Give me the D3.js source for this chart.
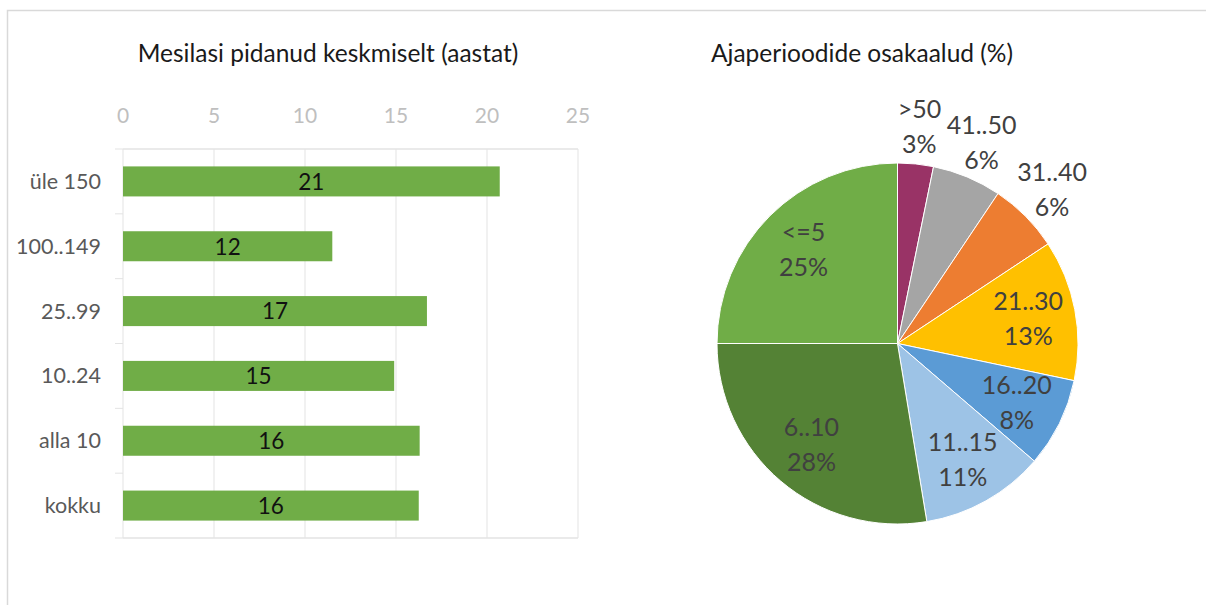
<!DOCTYPE html>
<html>
<head>
<meta charset="utf-8">
<script src="https://cdn.jsdelivr.net/npm/d3@7/dist/d3.min.js"></script>
<style>
  body { margin: 0; background: #fff; }
  svg { display: block; font-family: Lato, "Open Sans", sans-serif; }
</style>
</head>
<body>
<div id="chart"></div>
<script>
// bar chart data
var barCategories = ['üle 150', '100..149', '25..99', '10..24', 'alla 10', 'kokku'];
var barValues = [20.7, 11.5, 16.7, 14.9, 16.3, 16.25];
var barTicks = [0, 5, 10, 15, 20, 25];

// pie data (clockwise from top)
var pieLabels = ['>50', '41..50', '31..40', '21..30', '16..20', '11..15', '6..10', '<=5'];
var pieValues = [3.2, 6.2, 6.3, 12.6, 8.0, 11.1, 27.6, 25.0];
var pieColors = ['#993366', '#a5a5a5', '#ed7d31', '#ffc000', '#5b9bd5', '#9dc3e6', '#548235', '#70ad47'];

var width = 1206, height = 605;
var svg = d3.select('#chart').append('svg')
  .attr('width', width)
  .attr('height', height);

// frame
svg.append('path')
  .attr('d', 'M7.5,' + height + 'V10.5H' + width)
  .attr('fill', 'none')
  .attr('stroke', '#d9d9d9')
  .attr('stroke-width', 1.5);

// ---- bar chart ----
var x = d3.scaleLinear().domain([0, 25]).range([123, 578]);
var y = d3.scaleBand().domain(barCategories).range([149, 538])
  .paddingInner(0.537).paddingOuter(0.2685);

svg.append('text')
  .attr('x', 328).attr('y', 53)
  .attr('dy', '0.35em')
  .attr('text-anchor', 'middle')
  .attr('font-size', 24.5)
  .attr('fill', '#1a1a1a')
  .text('Mesilasi pidanud keskmiselt (aastat)');

var grid = svg.append('g');
grid.selectAll('line.v').data(barTicks).enter().append('line')
  .attr('x1', function(d) { return x(d); })
  .attr('x2', function(d) { return x(d); })
  .attr('y1', y.range()[0]).attr('y2', y.range()[1])
  .attr('stroke', '#e3e3e3').attr('stroke-width', 1);

// category boundaries (ticks) + top/bottom lines
var step = y.step();
var bounds = d3.range(barCategories.length + 1).map(function(i) { return y.range()[0] + i * step; });
grid.selectAll('line.t').data(bounds).enter().append('line')
  .attr('x1', 115).attr('x2', 123)
  .attr('y1', function(d) { return d; }).attr('y2', function(d) { return d; })
  .attr('stroke', '#e3e3e3');
grid.selectAll('line.h').data([bounds[0], bounds[bounds.length - 1]]).enter().append('line')
  .attr('x1', x(0)).attr('x2', x(25))
  .attr('y1', function(d) { return d; }).attr('y2', function(d) { return d; })
  .attr('stroke', '#e3e3e3').attr('stroke-width', 1.5);

svg.append('g').selectAll('text').data(barTicks).enter().append('text')
  .attr('x', function(d) { return x(d); })
  .attr('y', 116)
  .attr('dy', '0.35em')
  .attr('text-anchor', 'middle')
  .attr('font-size', 21)
  .attr('fill', '#bfbfbf')
  .text(function(d) { return d; });

svg.append('g').selectAll('text').data(barCategories).enter().append('text')
  .attr('x', 101)
  .attr('y', function(d) { return y(d) + y.bandwidth() / 2; })
  .attr('dy', '0.35em')
  .attr('text-anchor', 'end')
  .attr('font-size', 21.5)
  .attr('fill', '#595959')
  .text(function(d) { return d; });

var bars = svg.append('g').selectAll('g').data(barCategories).enter().append('g');
bars.append('rect')
  .attr('x', x(0))
  .attr('y', function(d) { return y(d); })
  .attr('width', function(d, i) { return x(barValues[i]) - x(0); })
  .attr('height', y.bandwidth())
  .attr('fill', '#70ad47');
bars.append('text')
  .attr('x', function(d, i) { return (x(0) + x(barValues[i])) / 2; })
  .attr('y', function(d) { return y(d) + y.bandwidth() / 2; })
  .attr('dy', '0.37em')
  .attr('text-anchor', 'middle')
  .attr('font-size', 22.5)
  .attr('fill', '#111')
  .text(function(d, i) { return Math.round(barValues[i]); });

// ---- pie chart ----
var cx = 897.5, cy = 343.5, R = 180.5;

svg.append('text')
  .attr('x', 862).attr('y', 53)
  .attr('dy', '0.35em')
  .attr('text-anchor', 'middle')
  .attr('font-size', 24.5)
  .attr('fill', '#1a1a1a')
  .text('Ajaperioodide osakaalud (%)');

var pie = d3.pie().sort(null).value(function(d) { return d; });
var arcs = pie(pieValues);
var arc = d3.arc().innerRadius(0).outerRadius(R);
var total = d3.sum(pieValues);

var gPie = svg.append('g').attr('transform', 'translate(' + cx + ',' + cy + ')');
gPie.selectAll('path').data(arcs).enter().append('path')
  .attr('d', arc)
  .attr('fill', function(d, i) { return pieColors[i]; })
  .attr('stroke', '#fff')
  .attr('stroke-width', 1);

var labels = gPie.selectAll('g.lbl').data(arcs).enter().append('g')
  .attr('transform', function(d) {
    var a = (d.startAngle + d.endAngle) / 2;
    var r = (d.value / total < 0.07) ? 218 : 133;
    return 'translate(' + (Math.sin(a) * r) + ',' + (-Math.cos(a) * r) + ')';
  });
labels.append('text')
  .attr('text-anchor', 'middle')
  .attr('y', -17.5)
  .attr('dy', '0.35em')
  .attr('font-size', 25)
  .attr('fill', '#404040')
  .text(function(d, i) { return pieLabels[i]; });
labels.append('text')
  .attr('text-anchor', 'middle')
  .attr('y', 17.5)
  .attr('dy', '0.35em')
  .attr('font-size', 25)
  .attr('fill', '#404040')
  .text(function(d) { return Math.round(d.value / total * 100) + '%'; });
</script>
</body>
</html>
